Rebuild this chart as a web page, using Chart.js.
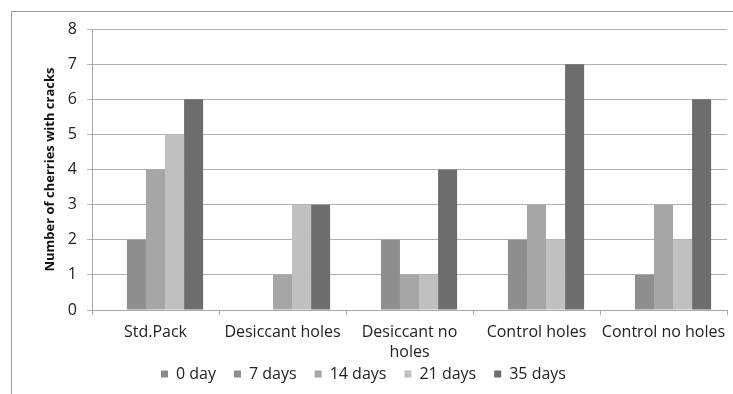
<!DOCTYPE html>
<html>
<head>
<meta charset="utf-8">
<script src="https://cdn.jsdelivr.net/npm/chart.js@4.4.1/dist/chart.umd.min.js"></script>
<style>
  html, body { margin: 0; padding: 0; background: #fff; }
  #wrap { position: relative; width: 733px; height: 394px; overflow: hidden; }
  #frame { position: absolute; left: 11px; top: 11px; right: -5px; bottom: -5px;
           border-left: 1px solid #9a9a9a; border-top: 1px solid #9a9a9a; }
  canvas { position: absolute; left: 0; top: 0; }
</style>
</head>
<body>
<div id="wrap">
  <div id="frame"></div>
  <canvas id="chart" width="733" height="394"></canvas>
</div>
<script>
// categories and series
const categories = ["Std.Pack", "Desiccant holes", ["Desiccant no", "holes"], "Control holes", "Control no holes"];
const seriesNames = ["0 day", "7 days", "14 days", "21 days", "35 days"];
const day0 = [0, 0, 0, 0, 0];
const day7 = [2, 0, 2, 2, 1];
const day14 = [4, 1, 1, 3, 3];
const day21 = [5, 3, 1, 2, 2];
const day35 = [6, 3, 4, 7, 6];
const yTicks = [0, 1, 2, 3, 4, 5, 6, 7, 8];

const colors = ["#8c8c8c", "#8e8e8e", "#a6a6a6", "#c0c0c0", "#6d6d6d"];
const allSeries = [day0, day7, day14, day21, day35];

Chart.defaults.font.family = "'Open Sans'";
Chart.defaults.font.size = 16;
Chart.defaults.color = "#222";

let ctx = document.getElementById("chart").getContext("2d");

let chart = new Chart(ctx, {
  type: "bar",
  data: {
    labels: categories,
    datasets: allSeries.map(function (values, i) {
      return {
        label: seriesNames[i],
        data: values,
        backgroundColor: colors[i],
        borderWidth: 0,
        barPercentage: 1,
        categoryPercentage: 0.75
      };
    })
  },
  options: {
    responsive: false,
    animation: false,
    layout: { padding: { left: 0, top: 29, right: 6, bottom: 2 } },
    plugins: {
      tooltip: { enabled: false },
      legend: {
        position: "bottom",
        labels: { boxWidth: 7, boxHeight: 7, padding: 18, font: { size: 16 } }
      }
    },
    scales: {
      x: {
        //squeeze the axis box so the legend sits close, and let labels spill out of it
        afterFit: function (scale) {
          scale.height = 38;
          scale._computeLabelArea = function () {};
        },
        grid: { offset: true, drawOnChartArea: false, tickLength: 5, color: "#a8a8a8" },
        border: { color: "#a8a8a8" },
        ticks: { padding: 7, maxRotation: 0, autoSkip: false, font: { lineHeight: 1.25 } }
      },
      y: {
        min: 0,
        max: 8,
        afterFit: function (scale) { scale.width = 92; },
        afterBuildTicks: function (scale) {
          scale.ticks = yTicks.map(function (v) { return { value: v }; });
        },
        grid: { color: "#b0b0b0", tickLength: 5 },
        border: { color: "#a8a8a8" },
        ticks: { padding: 10 },
        title: {
          display: true,
          text: "Number of cherries with cracks",
          font: { size: 13, weight: "bold" },
          color: "#111",
          padding: { top: 42, bottom: 0 }
        }
      }
    }
  }
});
</script>
</body>
</html>
